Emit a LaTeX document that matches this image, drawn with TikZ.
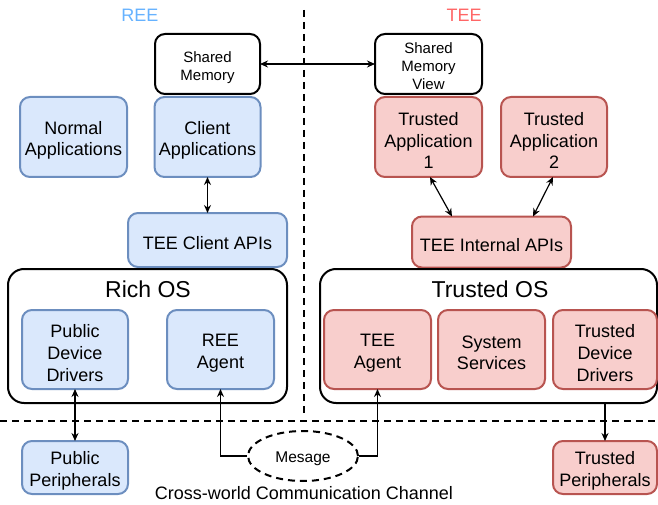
\documentclass[tikz,border=0pt]{standalone}
\usepackage{fontspec}
\setmainfont{Liberation Sans}
\usetikzlibrary{arrows.meta,shapes.geometric,calc}
\definecolor{bfill}{HTML}{DAE8FC}
\definecolor{bline}{HTML}{6C8EBF}
\definecolor{rfill}{HTML}{F8CECC}
\definecolor{rline}{HTML}{B85450}
\definecolor{reecol}{HTML}{66B2FF}
\definecolor{teecol}{HTML}{FF6666}
\tikzset{
  base/.style={rounded corners=10pt, line width=2pt, inner sep=0pt, outer sep=0pt},
  txt/.style={align=center, inner sep=0pt, yshift=-3.5pt, font=\fontsize{18}{21.6}\selectfont},
  txtsm/.style={align=center, inner sep=0pt, yshift=-3.5pt, font=\fontsize{15}{18}\selectfont},
  bluebox/.style={base, draw=bline, fill=bfill},
  redbox/.style={base, draw=rline, fill=rfill},
  memmbox/.style={base, draw=black, fill=white},
  osbox/.style={rounded corners=16pt, line width=2pt, draw=black, fill=white, inner sep=0pt, outer sep=0pt},
  ostitle/.style={font=\fontsize{23}{27}\selectfont},
  conn/.style={line width=1.2pt, -{Stealth[length=8pt,width=7pt]}},
  biconn/.style={line width=1.2pt, {Stealth[length=8pt,width=7pt]}-{Stealth[length=8pt,width=7pt]}},
  divider/.style={line width=2pt, dash pattern=on 7pt off 5pt},
}
\begin{document}
\begin{tikzpicture}[x=1pt,y=-1pt]
\useasboundingbox (0,0) rectangle (658,505);
% dividers
\coordinate (vtop) at (304,10);
\coordinate (vbot) at (304,413);
\coordinate (hl) at (0,421);
\coordinate (hr) at (658,421);
\draw[divider] (vtop) -- (vbot);
\draw[divider] (hl) -- (hr);
% labels
\node[text=reecol, font=\fontsize{18}{21.6}\selectfont] (ree) at (140,15) {REE};
\node[text=teecol, font=\fontsize{18}{21.6}\selectfont] (tee) at (464,15) {TEE};
% REE side
\node[memmbox, minimum width=105, minimum height=60, label={[txtsm]center:{Shared\\Memory}}] (sm) at (207.5,64) {};
\node[bluebox, minimum width=107, minimum height=80, label={[txt]center:{Normal\\Applications}}] (na) at (73.5,137) {};
\node[bluebox, minimum width=106, minimum height=80, label={[txt]center:{Client\\Applications}}] (ca) at (207.5,137) {};
\node[bluebox, minimum width=159, minimum height=54, label={[txt]center:{TEE Client APIs}}] (tca) at (207.5,240) {};
\node[osbox, minimum width=279, minimum height=134] (ros) at (147.5,336) {};
\node[ostitle] (rost) at (148,289.5) {Rich OS};
\node[bluebox, minimum width=106, minimum height=79, label={[txt]center:{Public\\Device\\Drivers}}] (pdd) at (75,349.5) {};
\node[bluebox, minimum width=107, minimum height=79, label={[txt]center:{REE\\Agent}}] (reea) at (220.5,349.5) {};
\node[bluebox, minimum width=106, minimum height=53, label={[txt]center:{Public\\Peripherals}}] (pp) at (75,467.5) {};
% TEE side
\node[memmbox, minimum width=107, minimum height=60, label={[txtsm,yshift=1pt]center:{Shared\\Memory\\View}}] (smv) at (428.5,64) {};
\node[redbox, minimum width=107, minimum height=80, label={[txt]center:{Trusted\\Application\\1}}] (ta1) at (428.5,137) {};
\node[redbox, minimum width=106, minimum height=80, label={[txt]center:{Trusted\\Application\\2}}] (ta2) at (554,137) {};
\node[redbox, minimum width=159, minimum height=51, label={[txt]center:{TEE Internal APIs}}] (tia) at (491.5,242) {};
\node[osbox, minimum width=337, minimum height=134] (tos) at (488.5,336) {};
\node[ostitle] (tost) at (490,289.5) {Trusted OS};
\node[redbox, minimum width=107, minimum height=79, label={[txt]center:{TEE\\Agent}}] (teea) at (377.5,349.5) {};
\node[redbox, minimum width=107, minimum height=79, label={[txt]center:{System\\Services}}] (ss) at (491.5,349.5) {};
\node[redbox, minimum width=104, minimum height=79, label={[txt]center:{Trusted\\Device\\Drivers}}] (tdd) at (605,349.5) {};
\node[redbox, minimum width=104, minimum height=53, label={[txt]center:{Trusted\\Peripherals}}] (tp) at (605,467.5) {};
% channel
\node[ellipse, draw, line width=2pt, dash pattern=on 7pt off 5pt, minimum width=110, minimum height=50,
  inner sep=0pt, label={[txtsm,yshift=1pt,font=\fontsize{15.5}{18}\selectfont]center:{Mesage}}] (msg) at (303,456) {};
\node[font=\fontsize{18}{21.6}\selectfont] (cwc) at (304,493) {Cross-world Communication Channel};
% connectors
\draw[biconn] (sm.east) -- (smv.west);
\draw[biconn] (ca.south) -- (tca.north);
\draw[biconn] ([xshift=1.5pt]ta1.south) -- ([xshift=-39.5pt]tia.north);
\draw[biconn] ([xshift=-1pt]ta2.south) -- ([xshift=41.5pt]tia.north);
\draw[biconn] (pdd.south) -- (pp.north);
\draw[conn] (msg.west) -| (reea.south);
\draw[conn] (msg.east) -| (teea.south);
\draw[conn] (tp.north |- tos.south) -- (tp.north);
\end{tikzpicture}
\end{document}
